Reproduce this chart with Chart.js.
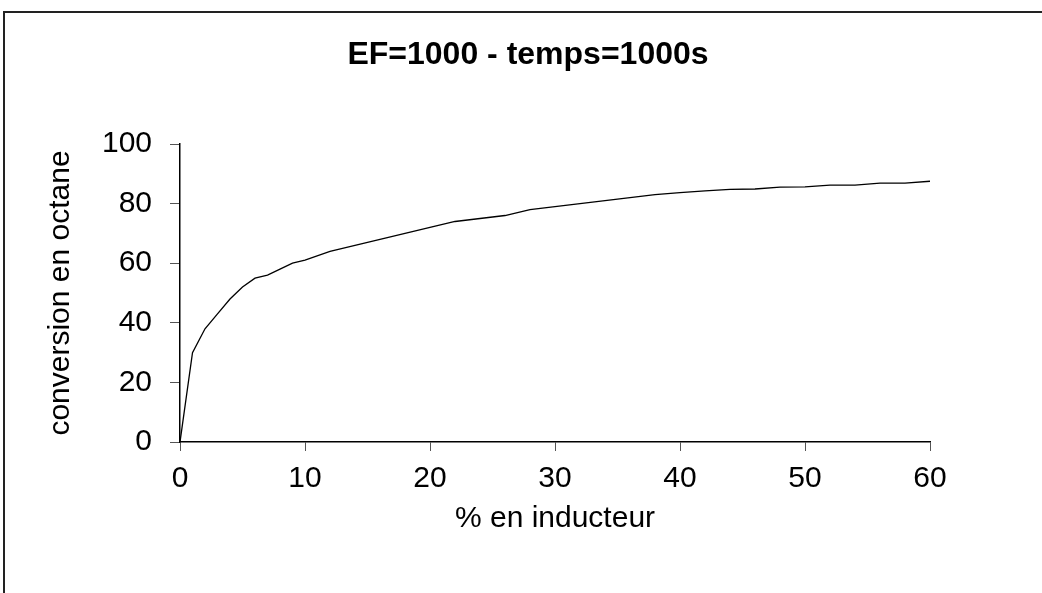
<!DOCTYPE html>
<html>
<head>
<meta charset="utf-8">
<script src="https://cdn.jsdelivr.net/npm/chart.js@4.4.1/dist/chart.umd.min.js"></script>
<style>
  html, body { margin: 0; padding: 0; background: #fff; overflow: hidden; }
  canvas { display: block; }
</style>
</head>
<body>
<canvas id="c" width="1042" height="593"></canvas>
<script>
const chartTitle = "EF=1000 - temps=1000s";
const xTitle = "% en inducteur";
const yTitle = "conversion en octane";

const inducteur = [0, 1, 2, 3, 4, 5, 6, 7, 8, 9, 10, 12, 14, 16, 18, 20, 22, 24, 26, 28, 30, 32, 34, 36, 38, 40, 42, 44, 46, 48, 50, 52, 54, 56, 58, 60];
const conversion = [0, 30, 38, 43, 48, 52, 55, 56, 58, 60, 61, 64, 66, 68, 70, 72, 74, 75, 76, 78, 79, 80, 81, 82, 83, 83.7, 84.3, 84.8, 84.9, 85.5, 85.6, 86.2, 86.2, 86.9, 86.9, 87.5];

const xTicks = [0, 10, 20, 30, 40, 50, 60];
const yTicks = [0, 20, 40, 60, 80, 100];

const points = inducteur.map((x, i) => ({ x: x, y: conversion[i] }));
const FONT = "'Liberation Sans', Arial, sans-serif";

const framePlugin = {
  id: 'frame',
  beforeDraw(chart) {
    const ctx = chart.ctx;
    ctx.save();
    ctx.fillStyle = '#fff';
    ctx.fillRect(0, 0, chart.width, chart.height);
    ctx.strokeStyle = '#222';
    ctx.lineWidth = 2;
    ctx.beginPath();
    ctx.moveTo(4, chart.height + 5);
    ctx.lineTo(4, 12);
    ctx.lineTo(chart.width + 5, 12);
    ctx.stroke();
    ctx.restore();
  }
};

new Chart(document.getElementById('c'), {
  type: 'scatter',
  data: {
    datasets: [{
      data: points,
      showLine: true,
      borderColor: '#000',
      borderWidth: 1.3,
      pointRadius: 0,
      fill: false,
      tension: 0
    }]
  },
  plugins: [framePlugin],
  options: {
    responsive: false,
    animation: false,
    layout: { padding: { left: 14, right: 0, top: 0, bottom: 0 } },
    plugins: {
      legend: { display: false },
      tooltip: { enabled: false },
      title: {
        display: true,
        text: chartTitle,
        color: '#000',
        font: { family: FONT, size: 32, weight: 'bold' },
        padding: { top: 36, bottom: 69.6 }
      }
    },
    scales: {
      x: {
        type: 'linear',
        min: 0, max: 60,
        afterBuildTicks: s => { s.ticks = xTicks.map(v => ({ value: v })); },
        afterFit: s => { s.height = 593 - 442; },
        ticks: { color: '#000', font: { family: FONT, size: 30 }, padding: 10, maxRotation: 0 },
        grid: { display: true, drawOnChartArea: false, drawTicks: true, tickLength: 9, tickColor: '#555' },
        border: { display: true, color: '#000', width: 1.5 },
        title: { display: true, text: xTitle, color: '#000', font: { family: FONT, size: 30 }, padding: { top: 0, bottom: 56 } }
      },
      y: {
        type: 'linear',
        min: 0, max: 100,
        afterBuildTicks: s => { s.ticks = yTicks.map(v => ({ value: v })); },
        afterFit: s => { s.width = 180 - 14; },
        ticks: { color: '#000', font: { family: FONT, size: 30 }, padding: 18 },
        grid: { display: true, drawOnChartArea: false, drawTicks: true, tickLength: 10, tickColor: '#555' },
        border: { display: true, color: '#000', width: 1.5 },
        title: { display: true, text: yTitle, color: '#000', font: { family: FONT, size: 30 }, padding: { top: 29, bottom: 0 } }
      },
      yr: {
        type: 'linear',
        position: 'right',
        min: 0, max: 100,
        display: true,
        afterFit: s => { s.width = 1042 - 930; },
        ticks: { display: false },
        grid: { display: false, drawTicks: false },
        border: { display: false },
        title: { display: false }
      }
    }
  }
});
</script>
</body>
</html>
